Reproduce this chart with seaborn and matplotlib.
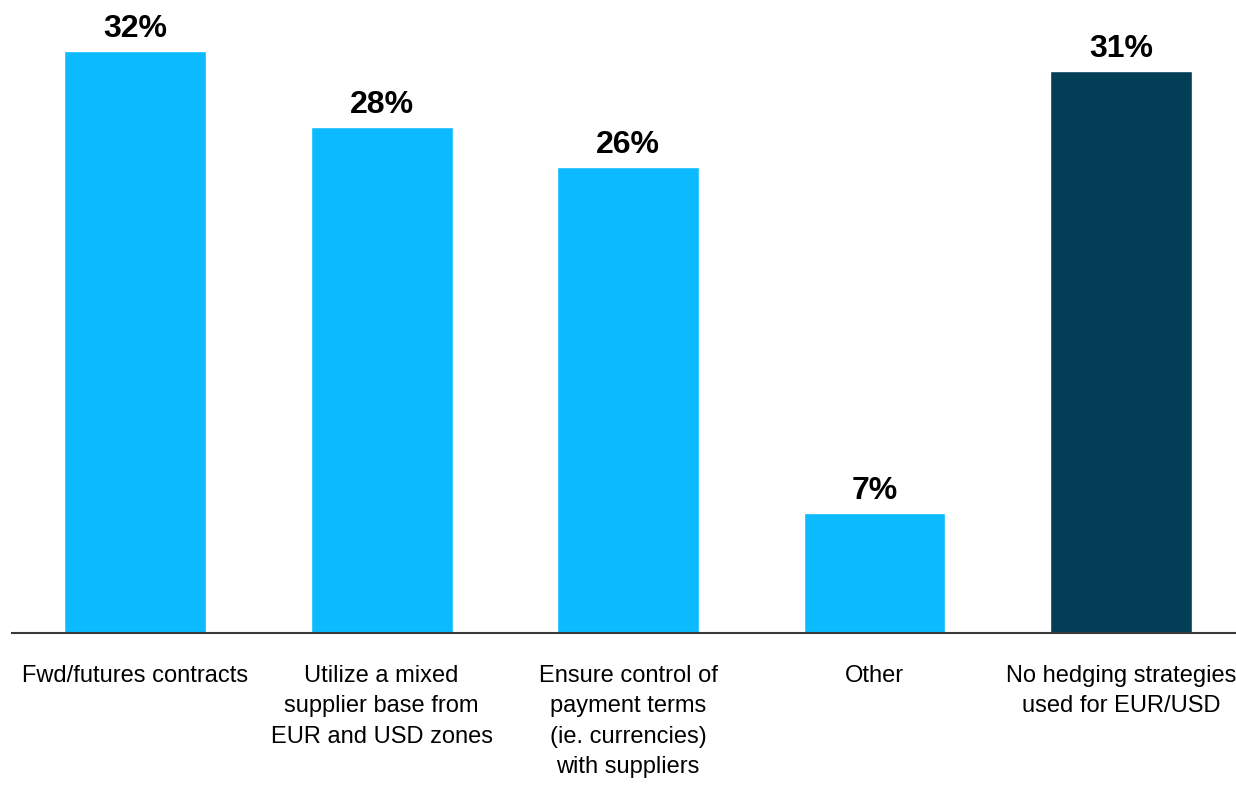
import matplotlib
matplotlib.use("Agg")
import matplotlib.pyplot as plt
import seaborn as sns
import pandas as pd

categories = [
    "Fwd/futures contracts",
    "Utilize a mixed\nsupplier base from\nEUR and USD zones",
    "Ensure control of\npayment terms\n(ie. currencies)\nwith suppliers",
    "Other",
    "No hedging strategies\nused for EUR/USD",
]
values = [32.0, 27.8, 25.6, 6.6, 30.9]
value_labels = ["32%", "28%", "26%", "7%", "31%"]
groups = ["hedge", "hedge", "hedge", "hedge", "none"]
palette = {"hedge": "#0BBAFF", "none": "#023E56"}

sns.set_theme(style="white")
plt.rcParams["font.family"] = ["Liberation Sans", "DejaVu Sans"]

df = pd.DataFrame({"cat": categories, "val": values, "grp": groups})

fig = plt.figure(figsize=(12.36, 7.95), dpi=100)
ax = fig.add_axes([12 / 1236, 162 / 795, 1224 / 1236, 633 / 795])
sns.barplot(data=df, x="cat", y="val", hue="grp", palette=palette,
            dodge=False, width=0.576, legend=False, ax=ax, saturation=1)

ax.set_xlim(-0.5, 4.467)
ax.set_ylim(0, 34.8)

for i, (v, lab) in enumerate(zip(values, value_labels)):
    ax.annotate(lab, (i, v), xytext=(0, 10), textcoords="offset points",
                ha="center", va="baseline", fontsize=23, fontweight="bold",
                color="black")

ax.set_xlabel("")
ax.set_ylabel("")
ax.set_yticks([])
ax.tick_params(axis="x", length=0, pad=23, labelsize=17, colors="black")
for t in ax.get_xticklabels():
    t.set_linespacing(1.5)
for s in ["top", "left", "right"]:
    ax.spines[s].set_visible(False)
ax.spines["bottom"].set_color("#3a3a3a")
ax.spines["bottom"].set_linewidth(1.5)

fig.savefig("out.png", dpi=100)
